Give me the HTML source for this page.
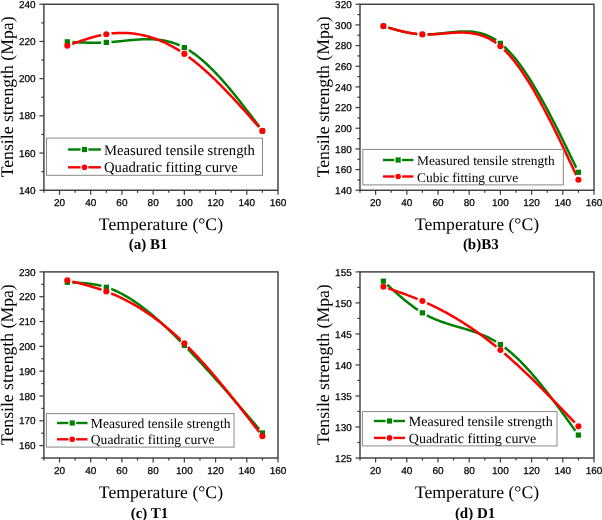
<!DOCTYPE html>
<html><head><meta charset="utf-8"><style>
html,body{margin:0;padding:0;background:#fff;}
body{width:602px;height:520px;overflow:hidden;}
svg{display:block;filter:blur(0.3px);text-rendering:geometricPrecision;}
.tk{font-family:"Liberation Sans",sans-serif;font-size:10px;fill:#000;stroke:#000;stroke-width:0.25px;}
.lg{font-family:"Liberation Serif",serif;fill:#000;}
.ti{font-family:"Liberation Serif",serif;font-size:17.7px;fill:#000;}
.cap{font-family:"Liberation Serif",serif;font-size:15px;font-weight:bold;fill:#000;}
</style></head><body>
<svg width="602" height="520" viewBox="0 0 602 520">
<defs><mask id="m0g" maskUnits="userSpaceOnUse" x="0" y="0" width="602" height="520"><rect x="0" y="0" width="602" height="520" fill="white"/><circle cx="67.31" cy="41.82" r="5.3" fill="black"/><circle cx="106.33" cy="42.38" r="5.3" fill="black"/><circle cx="184.36" cy="47.59" r="5.3" fill="black"/><circle cx="262.39" cy="130.92" r="5.3" fill="black"/></mask><mask id="m0r" maskUnits="userSpaceOnUse" x="0" y="0" width="602" height="520"><rect x="0" y="0" width="602" height="520" fill="white"/><circle cx="67.31" cy="45.73" r="5.3" fill="black"/><circle cx="106.33" cy="34.20" r="5.3" fill="black"/><circle cx="184.36" cy="53.91" r="5.3" fill="black"/><circle cx="262.39" cy="130.92" r="5.3" fill="black"/></mask><mask id="m1g" maskUnits="userSpaceOnUse" x="0" y="0" width="602" height="520"><rect x="0" y="0" width="602" height="520" fill="white"/><circle cx="383.40" cy="26.16" r="5.3" fill="black"/><circle cx="422.40" cy="34.42" r="5.3" fill="black"/><circle cx="500.40" cy="43.31" r="5.3" fill="black"/><circle cx="578.40" cy="172.27" r="5.3" fill="black"/></mask><mask id="m1r" maskUnits="userSpaceOnUse" x="0" y="0" width="602" height="520"><rect x="0" y="0" width="602" height="520" fill="white"/><circle cx="383.40" cy="26.16" r="5.3" fill="black"/><circle cx="422.40" cy="34.42" r="5.3" fill="black"/><circle cx="500.40" cy="46.31" r="5.3" fill="black"/><circle cx="578.40" cy="179.71" r="5.3" fill="black"/></mask><mask id="m2g" maskUnits="userSpaceOnUse" x="0" y="0" width="602" height="520"><rect x="0" y="0" width="602" height="520" fill="white"/><circle cx="67.31" cy="282.32" r="5.3" fill="black"/><circle cx="106.33" cy="287.28" r="5.3" fill="black"/><circle cx="184.36" cy="345.35" r="5.3" fill="black"/><circle cx="262.39" cy="432.94" r="5.3" fill="black"/></mask><mask id="m2r" maskUnits="userSpaceOnUse" x="0" y="0" width="602" height="520"><rect x="0" y="0" width="602" height="520" fill="white"/><circle cx="67.31" cy="280.34" r="5.3" fill="black"/><circle cx="106.33" cy="291.50" r="5.3" fill="black"/><circle cx="184.36" cy="343.36" r="5.3" fill="black"/><circle cx="262.39" cy="436.16" r="5.3" fill="black"/></mask><mask id="m3g" maskUnits="userSpaceOnUse" x="0" y="0" width="602" height="520"><rect x="0" y="0" width="602" height="520" fill="white"/><circle cx="383.40" cy="281.20" r="5.3" fill="black"/><circle cx="422.40" cy="312.84" r="5.3" fill="black"/><circle cx="500.40" cy="344.48" r="5.3" fill="black"/><circle cx="578.40" cy="435.05" r="5.3" fill="black"/></mask><mask id="m3r" maskUnits="userSpaceOnUse" x="0" y="0" width="602" height="520"><rect x="0" y="0" width="602" height="520" fill="white"/><circle cx="383.40" cy="286.79" r="5.3" fill="black"/><circle cx="422.40" cy="301.06" r="5.3" fill="black"/><circle cx="500.40" cy="350.06" r="5.3" fill="black"/><circle cx="578.40" cy="426.36" r="5.3" fill="black"/></mask></defs>
<rect x="43.9" y="4.25" width="234.10" height="186.00" fill="none" stroke="#3a3a3a" stroke-width="1.4"/>
<line x1="43.90" y1="190.25" x2="43.90" y2="192.85" stroke="#3a3a3a" stroke-width="1.2"/>
<line x1="59.51" y1="190.25" x2="59.51" y2="194.75" stroke="#3a3a3a" stroke-width="1.2"/>
<text x="59.51" y="206.05" class="tk" text-anchor="middle">20</text>
<line x1="75.11" y1="190.25" x2="75.11" y2="192.85" stroke="#3a3a3a" stroke-width="1.2"/>
<line x1="90.72" y1="190.25" x2="90.72" y2="194.75" stroke="#3a3a3a" stroke-width="1.2"/>
<text x="90.72" y="206.05" class="tk" text-anchor="middle">40</text>
<line x1="106.33" y1="190.25" x2="106.33" y2="192.85" stroke="#3a3a3a" stroke-width="1.2"/>
<line x1="121.93" y1="190.25" x2="121.93" y2="194.75" stroke="#3a3a3a" stroke-width="1.2"/>
<text x="121.93" y="206.05" class="tk" text-anchor="middle">60</text>
<line x1="137.54" y1="190.25" x2="137.54" y2="192.85" stroke="#3a3a3a" stroke-width="1.2"/>
<line x1="153.15" y1="190.25" x2="153.15" y2="194.75" stroke="#3a3a3a" stroke-width="1.2"/>
<text x="153.15" y="206.05" class="tk" text-anchor="middle">80</text>
<line x1="168.75" y1="190.25" x2="168.75" y2="192.85" stroke="#3a3a3a" stroke-width="1.2"/>
<line x1="184.36" y1="190.25" x2="184.36" y2="194.75" stroke="#3a3a3a" stroke-width="1.2"/>
<text x="184.36" y="206.05" class="tk" text-anchor="middle">100</text>
<line x1="199.97" y1="190.25" x2="199.97" y2="192.85" stroke="#3a3a3a" stroke-width="1.2"/>
<line x1="215.57" y1="190.25" x2="215.57" y2="194.75" stroke="#3a3a3a" stroke-width="1.2"/>
<text x="215.57" y="206.05" class="tk" text-anchor="middle">120</text>
<line x1="231.18" y1="190.25" x2="231.18" y2="192.85" stroke="#3a3a3a" stroke-width="1.2"/>
<line x1="246.79" y1="190.25" x2="246.79" y2="194.75" stroke="#3a3a3a" stroke-width="1.2"/>
<text x="246.79" y="206.05" class="tk" text-anchor="middle">140</text>
<line x1="262.39" y1="190.25" x2="262.39" y2="192.85" stroke="#3a3a3a" stroke-width="1.2"/>
<line x1="278.00" y1="190.25" x2="278.00" y2="194.75" stroke="#3a3a3a" stroke-width="1.2"/>
<text x="278.00" y="206.05" class="tk" text-anchor="middle">160</text>
<line x1="39.40" y1="190.25" x2="43.9" y2="190.25" stroke="#3a3a3a" stroke-width="1.2"/>
<text x="35.70" y="193.85" class="tk" text-anchor="end">140</text>
<line x1="41.30" y1="171.65" x2="43.9" y2="171.65" stroke="#3a3a3a" stroke-width="1.2"/>
<line x1="39.40" y1="153.05" x2="43.9" y2="153.05" stroke="#3a3a3a" stroke-width="1.2"/>
<text x="35.70" y="156.65" class="tk" text-anchor="end">160</text>
<line x1="41.30" y1="134.45" x2="43.9" y2="134.45" stroke="#3a3a3a" stroke-width="1.2"/>
<line x1="39.40" y1="115.85" x2="43.9" y2="115.85" stroke="#3a3a3a" stroke-width="1.2"/>
<text x="35.70" y="119.45" class="tk" text-anchor="end">180</text>
<line x1="41.30" y1="97.25" x2="43.9" y2="97.25" stroke="#3a3a3a" stroke-width="1.2"/>
<line x1="39.40" y1="78.65" x2="43.9" y2="78.65" stroke="#3a3a3a" stroke-width="1.2"/>
<text x="35.70" y="82.25" class="tk" text-anchor="end">200</text>
<line x1="41.30" y1="60.05" x2="43.9" y2="60.05" stroke="#3a3a3a" stroke-width="1.2"/>
<line x1="39.40" y1="41.45" x2="43.9" y2="41.45" stroke="#3a3a3a" stroke-width="1.2"/>
<text x="35.70" y="45.05" class="tk" text-anchor="end">220</text>
<line x1="41.30" y1="22.85" x2="43.9" y2="22.85" stroke="#3a3a3a" stroke-width="1.2"/>
<line x1="39.40" y1="4.25" x2="43.9" y2="4.25" stroke="#3a3a3a" stroke-width="1.2"/>
<text x="35.70" y="7.85" class="tk" text-anchor="end">240</text>
<path d="M67.31,41.82 L67.96,41.85 L68.61,41.89 L69.26,41.92 L69.91,41.95 L70.56,41.98 L71.21,42.02 L71.86,42.05 L72.51,42.08 L73.16,42.11 L73.81,42.14 L74.46,42.17 L75.11,42.20 L75.76,42.23 L76.41,42.26 L77.06,42.29 L77.71,42.32 L78.36,42.35 L79.02,42.37 L79.67,42.40 L80.32,42.42 L80.97,42.45 L81.62,42.47 L82.27,42.49 L82.92,42.52 L83.57,42.54 L84.22,42.56 L84.87,42.58 L85.52,42.59 L86.17,42.61 L86.82,42.63 L87.47,42.64 L88.12,42.66 L88.77,42.67 L89.42,42.68 L90.07,42.69 L90.72,42.70 L91.37,42.70 L92.02,42.71 L92.67,42.71 L93.32,42.71 L93.97,42.71 L94.62,42.71 L95.27,42.71 L95.92,42.71 L96.57,42.70 L97.22,42.69 L97.87,42.68 L98.52,42.67 L99.17,42.66 L99.82,42.64 L100.47,42.63 L101.12,42.61 L101.77,42.59 L102.42,42.56 L103.08,42.54 L103.73,42.51 L104.38,42.48 L105.03,42.45 L105.68,42.42 L106.33,42.38 L107.63,42.30 L108.93,42.21 L110.23,42.12 L111.53,42.01 L112.83,41.90 L114.13,41.79 L115.43,41.67 L116.73,41.54 L118.03,41.42 L119.33,41.29 L120.63,41.15 L121.93,41.02 L123.23,40.88 L124.53,40.75 L125.84,40.62 L127.14,40.49 L128.44,40.36 L129.74,40.23 L131.04,40.11 L132.34,39.99 L133.64,39.88 L134.94,39.78 L136.24,39.68 L137.54,39.59 L138.84,39.50 L140.14,39.43 L141.44,39.36 L142.74,39.31 L144.04,39.27 L145.34,39.24 L146.64,39.22 L147.94,39.22 L149.25,39.23 L150.55,39.25 L151.85,39.30 L153.15,39.35 L154.45,39.43 L155.75,39.52 L157.05,39.63 L158.35,39.76 L159.65,39.91 L160.95,40.08 L162.25,40.28 L163.55,40.49 L164.85,40.73 L166.15,41.00 L167.45,41.28 L168.75,41.60 L170.05,41.93 L171.35,42.30 L172.66,42.69 L173.96,43.11 L175.26,43.56 L176.56,44.04 L177.86,44.55 L179.16,45.10 L180.46,45.67 L181.76,46.27 L183.06,46.91 L184.36,47.59 L185.68,48.31 L187.01,49.06 L188.33,49.86 L189.65,50.68 L190.97,51.54 L192.30,52.43 L193.62,53.36 L194.94,54.31 L196.26,55.30 L197.59,56.32 L198.91,57.37 L200.23,58.44 L201.55,59.55 L202.88,60.68 L204.20,61.84 L205.52,63.03 L206.84,64.25 L208.17,65.49 L209.49,66.75 L210.81,68.04 L212.13,69.36 L213.46,70.69 L214.78,72.05 L216.10,73.44 L217.42,74.84 L218.75,76.26 L220.07,77.71 L221.39,79.17 L222.72,80.65 L224.04,82.15 L225.36,83.67 L226.68,85.21 L228.01,86.76 L229.33,88.33 L230.65,89.91 L231.97,91.51 L233.30,93.12 L234.62,94.75 L235.94,96.39 L237.26,98.04 L238.59,99.70 L239.91,101.38 L241.23,103.06 L242.55,104.75 L243.88,106.46 L245.20,108.17 L246.52,109.89 L247.84,111.61 L249.17,113.35 L250.49,115.09 L251.81,116.83 L253.14,118.58 L254.46,120.34 L255.78,122.09 L257.10,123.85 L258.43,125.62 L259.75,127.38 L261.07,129.15 L262.39,130.92" fill="none" stroke="#008000" stroke-width="2.5" stroke-linejoin="round" mask="url(#m0g)"/>
<path d="M67.31,45.73 L67.96,45.49 L68.61,45.26 L69.26,45.02 L69.91,44.79 L70.56,44.55 L71.21,44.32 L71.86,44.08 L72.51,43.85 L73.16,43.62 L73.81,43.39 L74.46,43.16 L75.11,42.92 L75.76,42.70 L76.41,42.47 L77.06,42.24 L77.71,42.01 L78.36,41.79 L79.02,41.56 L79.67,41.34 L80.32,41.12 L80.97,40.90 L81.62,40.68 L82.27,40.46 L82.92,40.25 L83.57,40.03 L84.22,39.82 L84.87,39.61 L85.52,39.40 L86.17,39.20 L86.82,38.99 L87.47,38.79 L88.12,38.59 L88.77,38.39 L89.42,38.20 L90.07,38.01 L90.72,37.82 L91.37,37.63 L92.02,37.44 L92.67,37.26 L93.32,37.08 L93.97,36.91 L94.62,36.73 L95.27,36.56 L95.92,36.39 L96.57,36.23 L97.22,36.07 L97.87,35.91 L98.52,35.76 L99.17,35.61 L99.82,35.46 L100.47,35.32 L101.12,35.18 L101.77,35.04 L102.42,34.91 L103.08,34.78 L103.73,34.65 L104.38,34.53 L105.03,34.42 L105.68,34.30 L106.33,34.20 L107.63,33.99 L108.93,33.81 L110.23,33.64 L111.53,33.49 L112.83,33.35 L114.13,33.24 L115.43,33.14 L116.73,33.06 L118.03,32.99 L119.33,32.95 L120.63,32.92 L121.93,32.91 L123.23,32.91 L124.53,32.94 L125.84,32.98 L127.14,33.04 L128.44,33.12 L129.74,33.21 L131.04,33.33 L132.34,33.46 L133.64,33.61 L134.94,33.78 L136.24,33.96 L137.54,34.17 L138.84,34.39 L140.14,34.63 L141.44,34.89 L142.74,35.16 L144.04,35.46 L145.34,35.77 L146.64,36.10 L147.94,36.46 L149.25,36.82 L150.55,37.21 L151.85,37.62 L153.15,38.04 L154.45,38.49 L155.75,38.95 L157.05,39.43 L158.35,39.93 L159.65,40.45 L160.95,40.98 L162.25,41.54 L163.55,42.11 L164.85,42.71 L166.15,43.32 L167.45,43.95 L168.75,44.60 L170.05,45.27 L171.35,45.96 L172.66,46.67 L173.96,47.40 L175.26,48.14 L176.56,48.91 L177.86,49.69 L179.16,50.50 L180.46,51.32 L181.76,52.17 L183.06,53.03 L184.36,53.91 L185.68,54.83 L187.01,55.77 L188.33,56.72 L189.65,57.70 L190.97,58.69 L192.30,59.71 L193.62,60.74 L194.94,61.79 L196.26,62.86 L197.59,63.94 L198.91,65.04 L200.23,66.16 L201.55,67.29 L202.88,68.44 L204.20,69.61 L205.52,70.78 L206.84,71.98 L208.17,73.19 L209.49,74.41 L210.81,75.65 L212.13,76.90 L213.46,78.16 L214.78,79.44 L216.10,80.72 L217.42,82.02 L218.75,83.34 L220.07,84.66 L221.39,85.99 L222.72,87.34 L224.04,88.69 L225.36,90.06 L226.68,91.43 L228.01,92.81 L229.33,94.21 L230.65,95.61 L231.97,97.02 L233.30,98.44 L234.62,99.86 L235.94,101.29 L237.26,102.73 L238.59,104.18 L239.91,105.63 L241.23,107.09 L242.55,108.55 L243.88,110.02 L245.20,111.49 L246.52,112.97 L247.84,114.45 L249.17,115.93 L250.49,117.42 L251.81,118.91 L253.14,120.41 L254.46,121.90 L255.78,123.40 L257.10,124.90 L258.43,126.41 L259.75,127.91 L261.07,129.41 L262.39,130.92" fill="none" stroke="#ff0000" stroke-width="2.5" stroke-linejoin="round" mask="url(#m0r)"/>
<rect x="64.66" y="39.22" width="5.3" height="5.2" fill="#008000"/>
<rect x="103.68" y="39.78" width="5.3" height="5.2" fill="#008000"/>
<rect x="181.71" y="44.99" width="5.3" height="5.2" fill="#008000"/>
<rect x="259.74" y="128.32" width="5.3" height="5.2" fill="#008000"/>
<circle cx="67.31" cy="45.73" r="3.05" fill="#ff0000"/>
<circle cx="106.33" cy="34.20" r="3.05" fill="#ff0000"/>
<circle cx="184.36" cy="53.91" r="3.05" fill="#ff0000"/>
<circle cx="262.39" cy="130.92" r="3.05" fill="#ff0000"/>
<rect x="46.5" y="138.1" width="216.00" height="37.20" fill="#fff" stroke="#888" stroke-width="1"/>
<line x1="68.0" y1="149.5" x2="80.55" y2="149.5" stroke="#008000" stroke-width="2.4"/>
<line x1="88.35" y1="149.5" x2="100.9" y2="149.5" stroke="#008000" stroke-width="2.4"/>
<rect x="81.85" y="146.90" width="5.2" height="5.2" fill="#008000"/>
<text x="104.0" y="154.50" class="lg" style="font-size:14.7px">Measured tensile strength</text>
<line x1="68.0" y1="167.3" x2="80.55" y2="167.3" stroke="#ff0000" stroke-width="2.4"/>
<line x1="88.35" y1="167.3" x2="100.9" y2="167.3" stroke="#ff0000" stroke-width="2.4"/>
<circle cx="84.45" cy="167.30" r="2.8" fill="#ff0000"/>
<text x="104.0" y="172.30" class="lg" style="font-size:14.7px">Quadratic fitting curve</text>
<text x="160.95" y="229.8" class="ti" text-anchor="middle">Temperature (°C)</text>
<text x="148.1" y="249.2" class="cap" text-anchor="middle">(a) B1</text>
<text transform="translate(12.7,96.9) rotate(-90)" x="0" y="0" class="ti" text-anchor="middle">Tensile strength (Mpa)</text>
<rect x="360.0" y="4.25" width="234.00" height="186.00" fill="none" stroke="#3a3a3a" stroke-width="1.4"/>
<line x1="360.00" y1="190.25" x2="360.00" y2="192.85" stroke="#3a3a3a" stroke-width="1.2"/>
<line x1="375.60" y1="190.25" x2="375.60" y2="194.75" stroke="#3a3a3a" stroke-width="1.2"/>
<text x="375.60" y="206.05" class="tk" text-anchor="middle">20</text>
<line x1="391.20" y1="190.25" x2="391.20" y2="192.85" stroke="#3a3a3a" stroke-width="1.2"/>
<line x1="406.80" y1="190.25" x2="406.80" y2="194.75" stroke="#3a3a3a" stroke-width="1.2"/>
<text x="406.80" y="206.05" class="tk" text-anchor="middle">40</text>
<line x1="422.40" y1="190.25" x2="422.40" y2="192.85" stroke="#3a3a3a" stroke-width="1.2"/>
<line x1="438.00" y1="190.25" x2="438.00" y2="194.75" stroke="#3a3a3a" stroke-width="1.2"/>
<text x="438.00" y="206.05" class="tk" text-anchor="middle">60</text>
<line x1="453.60" y1="190.25" x2="453.60" y2="192.85" stroke="#3a3a3a" stroke-width="1.2"/>
<line x1="469.20" y1="190.25" x2="469.20" y2="194.75" stroke="#3a3a3a" stroke-width="1.2"/>
<text x="469.20" y="206.05" class="tk" text-anchor="middle">80</text>
<line x1="484.80" y1="190.25" x2="484.80" y2="192.85" stroke="#3a3a3a" stroke-width="1.2"/>
<line x1="500.40" y1="190.25" x2="500.40" y2="194.75" stroke="#3a3a3a" stroke-width="1.2"/>
<text x="500.40" y="206.05" class="tk" text-anchor="middle">100</text>
<line x1="516.00" y1="190.25" x2="516.00" y2="192.85" stroke="#3a3a3a" stroke-width="1.2"/>
<line x1="531.60" y1="190.25" x2="531.60" y2="194.75" stroke="#3a3a3a" stroke-width="1.2"/>
<text x="531.60" y="206.05" class="tk" text-anchor="middle">120</text>
<line x1="547.20" y1="190.25" x2="547.20" y2="192.85" stroke="#3a3a3a" stroke-width="1.2"/>
<line x1="562.80" y1="190.25" x2="562.80" y2="194.75" stroke="#3a3a3a" stroke-width="1.2"/>
<text x="562.80" y="206.05" class="tk" text-anchor="middle">140</text>
<line x1="578.40" y1="190.25" x2="578.40" y2="192.85" stroke="#3a3a3a" stroke-width="1.2"/>
<line x1="594.00" y1="190.25" x2="594.00" y2="194.75" stroke="#3a3a3a" stroke-width="1.2"/>
<text x="594.00" y="206.05" class="tk" text-anchor="middle">160</text>
<line x1="355.50" y1="190.25" x2="360.0" y2="190.25" stroke="#3a3a3a" stroke-width="1.2"/>
<text x="351.80" y="193.85" class="tk" text-anchor="end">140</text>
<line x1="357.40" y1="179.92" x2="360.0" y2="179.92" stroke="#3a3a3a" stroke-width="1.2"/>
<line x1="355.50" y1="169.58" x2="360.0" y2="169.58" stroke="#3a3a3a" stroke-width="1.2"/>
<text x="351.80" y="173.18" class="tk" text-anchor="end">160</text>
<line x1="357.40" y1="159.25" x2="360.0" y2="159.25" stroke="#3a3a3a" stroke-width="1.2"/>
<line x1="355.50" y1="148.92" x2="360.0" y2="148.92" stroke="#3a3a3a" stroke-width="1.2"/>
<text x="351.80" y="152.52" class="tk" text-anchor="end">180</text>
<line x1="357.40" y1="138.58" x2="360.0" y2="138.58" stroke="#3a3a3a" stroke-width="1.2"/>
<line x1="355.50" y1="128.25" x2="360.0" y2="128.25" stroke="#3a3a3a" stroke-width="1.2"/>
<text x="351.80" y="131.85" class="tk" text-anchor="end">200</text>
<line x1="357.40" y1="117.92" x2="360.0" y2="117.92" stroke="#3a3a3a" stroke-width="1.2"/>
<line x1="355.50" y1="107.58" x2="360.0" y2="107.58" stroke="#3a3a3a" stroke-width="1.2"/>
<text x="351.80" y="111.18" class="tk" text-anchor="end">220</text>
<line x1="357.40" y1="97.25" x2="360.0" y2="97.25" stroke="#3a3a3a" stroke-width="1.2"/>
<line x1="355.50" y1="86.92" x2="360.0" y2="86.92" stroke="#3a3a3a" stroke-width="1.2"/>
<text x="351.80" y="90.52" class="tk" text-anchor="end">240</text>
<line x1="357.40" y1="76.58" x2="360.0" y2="76.58" stroke="#3a3a3a" stroke-width="1.2"/>
<line x1="355.50" y1="66.25" x2="360.0" y2="66.25" stroke="#3a3a3a" stroke-width="1.2"/>
<text x="351.80" y="69.85" class="tk" text-anchor="end">260</text>
<line x1="357.40" y1="55.92" x2="360.0" y2="55.92" stroke="#3a3a3a" stroke-width="1.2"/>
<line x1="355.50" y1="45.58" x2="360.0" y2="45.58" stroke="#3a3a3a" stroke-width="1.2"/>
<text x="351.80" y="49.18" class="tk" text-anchor="end">280</text>
<line x1="357.40" y1="35.25" x2="360.0" y2="35.25" stroke="#3a3a3a" stroke-width="1.2"/>
<line x1="355.50" y1="24.92" x2="360.0" y2="24.92" stroke="#3a3a3a" stroke-width="1.2"/>
<text x="351.80" y="28.52" class="tk" text-anchor="end">300</text>
<line x1="357.40" y1="14.58" x2="360.0" y2="14.58" stroke="#3a3a3a" stroke-width="1.2"/>
<line x1="355.50" y1="4.25" x2="360.0" y2="4.25" stroke="#3a3a3a" stroke-width="1.2"/>
<text x="351.80" y="7.85" class="tk" text-anchor="end">320</text>
<path d="M383.40,26.16 L384.05,26.35 L384.70,26.55 L385.35,26.74 L386.00,26.94 L386.65,27.13 L387.30,27.32 L387.95,27.52 L388.60,27.71 L389.25,27.90 L389.90,28.09 L390.55,28.28 L391.20,28.47 L391.85,28.65 L392.50,28.84 L393.15,29.03 L393.80,29.21 L394.45,29.39 L395.10,29.57 L395.75,29.75 L396.40,29.93 L397.05,30.10 L397.70,30.27 L398.35,30.45 L399.00,30.61 L399.65,30.78 L400.30,30.94 L400.95,31.11 L401.60,31.26 L402.25,31.42 L402.90,31.57 L403.55,31.72 L404.20,31.87 L404.85,32.02 L405.50,32.16 L406.15,32.30 L406.80,32.43 L407.45,32.56 L408.10,32.69 L408.75,32.82 L409.40,32.94 L410.05,33.05 L410.70,33.17 L411.35,33.27 L412.00,33.38 L412.65,33.48 L413.30,33.58 L413.95,33.67 L414.60,33.76 L415.25,33.84 L415.90,33.92 L416.55,33.99 L417.20,34.06 L417.85,34.12 L418.50,34.18 L419.15,34.24 L419.80,34.28 L420.45,34.33 L421.10,34.36 L421.75,34.40 L422.40,34.42 L423.70,34.46 L425.00,34.47 L426.30,34.47 L427.60,34.44 L428.90,34.40 L430.20,34.34 L431.50,34.27 L432.80,34.18 L434.10,34.08 L435.40,33.97 L436.70,33.85 L438.00,33.72 L439.30,33.59 L440.60,33.45 L441.90,33.30 L443.20,33.15 L444.50,33.00 L445.80,32.85 L447.10,32.70 L448.40,32.55 L449.70,32.40 L451.00,32.26 L452.30,32.13 L453.60,32.00 L454.90,31.88 L456.20,31.77 L457.50,31.67 L458.80,31.59 L460.10,31.52 L461.40,31.46 L462.70,31.42 L464.00,31.40 L465.30,31.40 L466.60,31.41 L467.90,31.45 L469.20,31.52 L470.50,31.60 L471.80,31.71 L473.10,31.85 L474.40,32.02 L475.70,32.22 L477.00,32.44 L478.30,32.70 L479.60,33.00 L480.90,33.33 L482.20,33.69 L483.50,34.09 L484.80,34.53 L486.10,35.01 L487.40,35.53 L488.70,36.10 L490.00,36.71 L491.30,37.36 L492.60,38.06 L493.90,38.81 L495.20,39.60 L496.50,40.45 L497.80,41.35 L499.10,42.30 L500.40,43.31 L501.72,44.39 L503.04,45.53 L504.37,46.72 L505.69,47.97 L507.01,49.27 L508.33,50.63 L509.65,52.03 L510.98,53.49 L512.30,54.99 L513.62,56.55 L514.94,58.15 L516.26,59.80 L517.59,61.50 L518.91,63.24 L520.23,65.03 L521.55,66.86 L522.87,68.73 L524.20,70.64 L525.52,72.59 L526.84,74.58 L528.16,76.61 L529.48,78.67 L530.81,80.77 L532.13,82.91 L533.45,85.08 L534.77,87.29 L536.09,89.52 L537.42,91.79 L538.74,94.09 L540.06,96.42 L541.38,98.77 L542.71,101.16 L544.03,103.56 L545.35,106.00 L546.67,108.46 L547.99,110.94 L549.32,113.45 L550.64,115.97 L551.96,118.52 L553.28,121.09 L554.60,123.67 L555.93,126.28 L557.25,128.90 L558.57,131.53 L559.89,134.18 L561.21,136.84 L562.54,139.52 L563.86,142.21 L565.18,144.91 L566.50,147.62 L567.82,150.33 L569.15,153.06 L570.47,155.79 L571.79,158.53 L573.11,161.27 L574.43,164.02 L575.76,166.77 L577.08,169.52 L578.40,172.27" fill="none" stroke="#008000" stroke-width="2.5" stroke-linejoin="round" mask="url(#m1g)"/>
<path d="M383.40,26.16 L384.05,26.35 L384.70,26.54 L385.35,26.73 L386.00,26.92 L386.65,27.11 L387.30,27.30 L387.95,27.49 L388.60,27.68 L389.25,27.86 L389.90,28.05 L390.55,28.24 L391.20,28.42 L391.85,28.61 L392.50,28.79 L393.15,28.97 L393.80,29.15 L394.45,29.33 L395.10,29.51 L395.75,29.68 L396.40,29.86 L397.05,30.03 L397.70,30.20 L398.35,30.37 L399.00,30.53 L399.65,30.70 L400.30,30.86 L400.95,31.02 L401.60,31.18 L402.25,31.33 L402.90,31.48 L403.55,31.63 L404.20,31.78 L404.85,31.93 L405.50,32.07 L406.15,32.20 L406.80,32.34 L407.45,32.47 L408.10,32.60 L408.75,32.73 L409.40,32.85 L410.05,32.97 L410.70,33.08 L411.35,33.19 L412.00,33.30 L412.65,33.40 L413.30,33.50 L413.95,33.60 L414.60,33.69 L415.25,33.77 L415.90,33.86 L416.55,33.93 L417.20,34.01 L417.85,34.08 L418.50,34.14 L419.15,34.20 L419.80,34.26 L420.45,34.30 L421.10,34.35 L421.75,34.39 L422.40,34.42 L423.70,34.48 L425.00,34.51 L426.30,34.52 L427.60,34.52 L428.90,34.50 L430.20,34.47 L431.50,34.42 L432.80,34.36 L434.10,34.29 L435.40,34.21 L436.70,34.12 L438.00,34.02 L439.30,33.92 L440.60,33.82 L441.90,33.71 L443.20,33.60 L444.50,33.48 L445.80,33.37 L447.10,33.26 L448.40,33.16 L449.70,33.06 L451.00,32.96 L452.30,32.87 L453.60,32.79 L454.90,32.72 L456.20,32.66 L457.50,32.61 L458.80,32.58 L460.10,32.56 L461.40,32.56 L462.70,32.57 L464.00,32.60 L465.30,32.65 L466.60,32.73 L467.90,32.82 L469.20,32.94 L470.50,33.09 L471.80,33.26 L473.10,33.46 L474.40,33.69 L475.70,33.95 L477.00,34.24 L478.30,34.56 L479.60,34.92 L480.90,35.31 L482.20,35.74 L483.50,36.20 L484.80,36.71 L486.10,37.26 L487.40,37.84 L488.70,38.47 L490.00,39.15 L491.30,39.87 L492.60,40.64 L493.90,41.46 L495.20,42.32 L496.50,43.24 L497.80,44.21 L499.10,45.23 L500.40,46.31 L501.72,47.46 L503.04,48.67 L504.37,49.93 L505.69,51.25 L507.01,52.63 L508.33,54.05 L509.65,55.53 L510.98,57.06 L512.30,58.64 L513.62,60.27 L514.94,61.95 L516.26,63.67 L517.59,65.44 L518.91,67.25 L520.23,69.11 L521.55,71.02 L522.87,72.96 L524.20,74.95 L525.52,76.97 L526.84,79.04 L528.16,81.14 L529.48,83.28 L530.81,85.46 L532.13,87.67 L533.45,89.91 L534.77,92.19 L536.09,94.51 L537.42,96.85 L538.74,99.22 L540.06,101.63 L541.38,104.06 L542.71,106.52 L544.03,109.00 L545.35,111.51 L546.67,114.05 L547.99,116.61 L549.32,119.19 L550.64,121.79 L551.96,124.42 L553.28,127.06 L554.60,129.72 L555.93,132.40 L557.25,135.10 L558.57,137.81 L559.89,140.54 L561.21,143.28 L562.54,146.03 L563.86,148.80 L565.18,151.57 L566.50,154.36 L567.82,157.15 L569.15,159.96 L570.47,162.77 L571.79,165.58 L573.11,168.40 L574.43,171.22 L575.76,174.05 L577.08,176.88 L578.40,179.71" fill="none" stroke="#ff0000" stroke-width="2.5" stroke-linejoin="round" mask="url(#m1r)"/>
<rect x="380.75" y="23.56" width="5.3" height="5.2" fill="#008000"/>
<rect x="419.75" y="31.82" width="5.3" height="5.2" fill="#008000"/>
<rect x="497.75" y="40.71" width="5.3" height="5.2" fill="#008000"/>
<rect x="575.75" y="169.67" width="5.3" height="5.2" fill="#008000"/>
<circle cx="383.40" cy="26.16" r="3.05" fill="#ff0000"/>
<circle cx="422.40" cy="34.42" r="3.05" fill="#ff0000"/>
<circle cx="500.40" cy="46.31" r="3.05" fill="#ff0000"/>
<circle cx="578.40" cy="179.71" r="3.05" fill="#ff0000"/>
<rect x="362.8" y="149.4" width="200.50" height="35.50" fill="#fff" stroke="#888" stroke-width="1"/>
<line x1="382.9" y1="160.0" x2="394.25" y2="160.0" stroke="#008000" stroke-width="2.4"/>
<line x1="402.05" y1="160.0" x2="413.4" y2="160.0" stroke="#008000" stroke-width="2.4"/>
<rect x="395.55" y="157.40" width="5.2" height="5.2" fill="#008000"/>
<text x="417.0" y="165.00" class="lg" style="font-size:13.4px">Measured tensile strength</text>
<line x1="382.9" y1="176.5" x2="394.25" y2="176.5" stroke="#ff0000" stroke-width="2.4"/>
<line x1="402.05" y1="176.5" x2="413.4" y2="176.5" stroke="#ff0000" stroke-width="2.4"/>
<circle cx="398.15" cy="176.50" r="2.8" fill="#ff0000"/>
<text x="417.0" y="181.50" class="lg" style="font-size:13.4px">Cubic fitting curve</text>
<text x="477.00" y="229.8" class="ti" text-anchor="middle">Temperature (°C)</text>
<text x="480.8" y="249.2" class="cap" text-anchor="middle">(b)B3</text>
<text transform="translate(329.4,96.9) rotate(-90)" x="0" y="0" class="ti" text-anchor="middle">Tensile strength (Mpa)</text>
<rect x="43.9" y="271.9" width="234.10" height="186.10" fill="none" stroke="#3a3a3a" stroke-width="1.4"/>
<line x1="43.90" y1="458.0" x2="43.90" y2="460.60" stroke="#3a3a3a" stroke-width="1.2"/>
<line x1="59.51" y1="458.0" x2="59.51" y2="462.50" stroke="#3a3a3a" stroke-width="1.2"/>
<text x="59.51" y="473.80" class="tk" text-anchor="middle">20</text>
<line x1="75.11" y1="458.0" x2="75.11" y2="460.60" stroke="#3a3a3a" stroke-width="1.2"/>
<line x1="90.72" y1="458.0" x2="90.72" y2="462.50" stroke="#3a3a3a" stroke-width="1.2"/>
<text x="90.72" y="473.80" class="tk" text-anchor="middle">40</text>
<line x1="106.33" y1="458.0" x2="106.33" y2="460.60" stroke="#3a3a3a" stroke-width="1.2"/>
<line x1="121.93" y1="458.0" x2="121.93" y2="462.50" stroke="#3a3a3a" stroke-width="1.2"/>
<text x="121.93" y="473.80" class="tk" text-anchor="middle">60</text>
<line x1="137.54" y1="458.0" x2="137.54" y2="460.60" stroke="#3a3a3a" stroke-width="1.2"/>
<line x1="153.15" y1="458.0" x2="153.15" y2="462.50" stroke="#3a3a3a" stroke-width="1.2"/>
<text x="153.15" y="473.80" class="tk" text-anchor="middle">80</text>
<line x1="168.75" y1="458.0" x2="168.75" y2="460.60" stroke="#3a3a3a" stroke-width="1.2"/>
<line x1="184.36" y1="458.0" x2="184.36" y2="462.50" stroke="#3a3a3a" stroke-width="1.2"/>
<text x="184.36" y="473.80" class="tk" text-anchor="middle">100</text>
<line x1="199.97" y1="458.0" x2="199.97" y2="460.60" stroke="#3a3a3a" stroke-width="1.2"/>
<line x1="215.57" y1="458.0" x2="215.57" y2="462.50" stroke="#3a3a3a" stroke-width="1.2"/>
<text x="215.57" y="473.80" class="tk" text-anchor="middle">120</text>
<line x1="231.18" y1="458.0" x2="231.18" y2="460.60" stroke="#3a3a3a" stroke-width="1.2"/>
<line x1="246.79" y1="458.0" x2="246.79" y2="462.50" stroke="#3a3a3a" stroke-width="1.2"/>
<text x="246.79" y="473.80" class="tk" text-anchor="middle">140</text>
<line x1="262.39" y1="458.0" x2="262.39" y2="460.60" stroke="#3a3a3a" stroke-width="1.2"/>
<line x1="278.00" y1="458.0" x2="278.00" y2="462.50" stroke="#3a3a3a" stroke-width="1.2"/>
<text x="278.00" y="473.80" class="tk" text-anchor="middle">160</text>
<line x1="41.30" y1="458.00" x2="43.9" y2="458.00" stroke="#3a3a3a" stroke-width="1.2"/>
<line x1="39.40" y1="445.59" x2="43.9" y2="445.59" stroke="#3a3a3a" stroke-width="1.2"/>
<text x="35.70" y="449.19" class="tk" text-anchor="end">160</text>
<line x1="41.30" y1="433.19" x2="43.9" y2="433.19" stroke="#3a3a3a" stroke-width="1.2"/>
<line x1="39.40" y1="420.78" x2="43.9" y2="420.78" stroke="#3a3a3a" stroke-width="1.2"/>
<text x="35.70" y="424.38" class="tk" text-anchor="end">170</text>
<line x1="41.30" y1="408.37" x2="43.9" y2="408.37" stroke="#3a3a3a" stroke-width="1.2"/>
<line x1="39.40" y1="395.97" x2="43.9" y2="395.97" stroke="#3a3a3a" stroke-width="1.2"/>
<text x="35.70" y="399.57" class="tk" text-anchor="end">180</text>
<line x1="41.30" y1="383.56" x2="43.9" y2="383.56" stroke="#3a3a3a" stroke-width="1.2"/>
<line x1="39.40" y1="371.15" x2="43.9" y2="371.15" stroke="#3a3a3a" stroke-width="1.2"/>
<text x="35.70" y="374.75" class="tk" text-anchor="end">190</text>
<line x1="41.30" y1="358.75" x2="43.9" y2="358.75" stroke="#3a3a3a" stroke-width="1.2"/>
<line x1="39.40" y1="346.34" x2="43.9" y2="346.34" stroke="#3a3a3a" stroke-width="1.2"/>
<text x="35.70" y="349.94" class="tk" text-anchor="end">200</text>
<line x1="41.30" y1="333.93" x2="43.9" y2="333.93" stroke="#3a3a3a" stroke-width="1.2"/>
<line x1="39.40" y1="321.53" x2="43.9" y2="321.53" stroke="#3a3a3a" stroke-width="1.2"/>
<text x="35.70" y="325.13" class="tk" text-anchor="end">210</text>
<line x1="41.30" y1="309.12" x2="43.9" y2="309.12" stroke="#3a3a3a" stroke-width="1.2"/>
<line x1="39.40" y1="296.71" x2="43.9" y2="296.71" stroke="#3a3a3a" stroke-width="1.2"/>
<text x="35.70" y="300.31" class="tk" text-anchor="end">220</text>
<line x1="41.30" y1="284.31" x2="43.9" y2="284.31" stroke="#3a3a3a" stroke-width="1.2"/>
<line x1="39.40" y1="271.90" x2="43.9" y2="271.90" stroke="#3a3a3a" stroke-width="1.2"/>
<text x="35.70" y="275.50" class="tk" text-anchor="end">230</text>
<path d="M67.31,282.32 L67.96,282.34 L68.61,282.36 L69.26,282.38 L69.91,282.41 L70.56,282.43 L71.21,282.45 L71.86,282.47 L72.51,282.50 L73.16,282.52 L73.81,282.55 L74.46,282.57 L75.11,282.60 L75.76,282.63 L76.41,282.66 L77.06,282.69 L77.71,282.73 L78.36,282.76 L79.02,282.80 L79.67,282.84 L80.32,282.88 L80.97,282.92 L81.62,282.97 L82.27,283.01 L82.92,283.06 L83.57,283.11 L84.22,283.17 L84.87,283.23 L85.52,283.29 L86.17,283.35 L86.82,283.41 L87.47,283.48 L88.12,283.55 L88.77,283.63 L89.42,283.71 L90.07,283.79 L90.72,283.88 L91.37,283.97 L92.02,284.06 L92.67,284.16 L93.32,284.26 L93.97,284.36 L94.62,284.47 L95.27,284.59 L95.92,284.71 L96.57,284.83 L97.22,284.96 L97.87,285.09 L98.52,285.22 L99.17,285.37 L99.82,285.51 L100.47,285.67 L101.12,285.82 L101.77,285.99 L102.42,286.15 L103.08,286.33 L103.73,286.51 L104.38,286.69 L105.03,286.88 L105.68,287.08 L106.33,287.28 L107.63,287.71 L108.93,288.16 L110.23,288.63 L111.53,289.13 L112.83,289.65 L114.13,290.19 L115.43,290.76 L116.73,291.35 L118.03,291.96 L119.33,292.59 L120.63,293.25 L121.93,293.92 L123.23,294.62 L124.53,295.34 L125.84,296.08 L127.14,296.83 L128.44,297.61 L129.74,298.41 L131.04,299.22 L132.34,300.06 L133.64,300.91 L134.94,301.79 L136.24,302.68 L137.54,303.58 L138.84,304.51 L140.14,305.45 L141.44,306.41 L142.74,307.38 L144.04,308.37 L145.34,309.38 L146.64,310.40 L147.94,311.44 L149.25,312.49 L150.55,313.56 L151.85,314.64 L153.15,315.73 L154.45,316.84 L155.75,317.96 L157.05,319.09 L158.35,320.24 L159.65,321.40 L160.95,322.57 L162.25,323.75 L163.55,324.95 L164.85,326.15 L166.15,327.37 L167.45,328.59 L168.75,329.83 L170.05,331.08 L171.35,332.33 L172.66,333.60 L173.96,334.87 L175.26,336.15 L176.56,337.45 L177.86,338.74 L179.16,340.05 L180.46,341.36 L181.76,342.69 L183.06,344.01 L184.36,345.35 L185.68,346.71 L187.01,348.08 L188.33,349.46 L189.65,350.84 L190.97,352.22 L192.30,353.62 L193.62,355.02 L194.94,356.42 L196.26,357.83 L197.59,359.25 L198.91,360.67 L200.23,362.09 L201.55,363.52 L202.88,364.96 L204.20,366.40 L205.52,367.84 L206.84,369.29 L208.17,370.75 L209.49,372.21 L210.81,373.67 L212.13,375.14 L213.46,376.61 L214.78,378.08 L216.10,379.56 L217.42,381.05 L218.75,382.53 L220.07,384.02 L221.39,385.52 L222.72,387.01 L224.04,388.51 L225.36,390.02 L226.68,391.52 L228.01,393.03 L229.33,394.55 L230.65,396.06 L231.97,397.58 L233.30,399.10 L234.62,400.62 L235.94,402.14 L237.26,403.67 L238.59,405.20 L239.91,406.73 L241.23,408.26 L242.55,409.80 L243.88,411.33 L245.20,412.87 L246.52,414.41 L247.84,415.95 L249.17,417.49 L250.49,419.03 L251.81,420.57 L253.14,422.12 L254.46,423.66 L255.78,425.21 L257.10,426.75 L258.43,428.30 L259.75,429.84 L261.07,431.39 L262.39,432.94" fill="none" stroke="#008000" stroke-width="2.5" stroke-linejoin="round" mask="url(#m2g)"/>
<path d="M67.31,280.34 L67.96,280.49 L68.61,280.65 L69.26,280.81 L69.91,280.96 L70.56,281.12 L71.21,281.28 L71.86,281.44 L72.51,281.60 L73.16,281.75 L73.81,281.91 L74.46,282.07 L75.11,282.23 L75.76,282.39 L76.41,282.55 L77.06,282.72 L77.71,282.88 L78.36,283.04 L79.02,283.21 L79.67,283.37 L80.32,283.54 L80.97,283.71 L81.62,283.87 L82.27,284.04 L82.92,284.21 L83.57,284.39 L84.22,284.56 L84.87,284.73 L85.52,284.91 L86.17,285.08 L86.82,285.26 L87.47,285.44 L88.12,285.62 L88.77,285.81 L89.42,285.99 L90.07,286.18 L90.72,286.36 L91.37,286.55 L92.02,286.74 L92.67,286.94 L93.32,287.13 L93.97,287.33 L94.62,287.53 L95.27,287.73 L95.92,287.93 L96.57,288.14 L97.22,288.34 L97.87,288.55 L98.52,288.76 L99.17,288.98 L99.82,289.19 L100.47,289.41 L101.12,289.64 L101.77,289.86 L102.42,290.09 L103.08,290.32 L103.73,290.55 L104.38,290.78 L105.03,291.02 L105.68,291.26 L106.33,291.50 L107.63,292.00 L108.93,292.50 L110.23,293.02 L111.53,293.55 L112.83,294.10 L114.13,294.65 L115.43,295.22 L116.73,295.79 L118.03,296.38 L119.33,296.99 L120.63,297.60 L121.93,298.23 L123.23,298.86 L124.53,299.51 L125.84,300.18 L127.14,300.85 L128.44,301.54 L129.74,302.24 L131.04,302.95 L132.34,303.68 L133.64,304.42 L134.94,305.17 L136.24,305.93 L137.54,306.70 L138.84,307.49 L140.14,308.29 L141.44,309.10 L142.74,309.93 L144.04,310.77 L145.34,311.62 L146.64,312.49 L147.94,313.36 L149.25,314.25 L150.55,315.16 L151.85,316.07 L153.15,317.00 L154.45,317.95 L155.75,318.90 L157.05,319.87 L158.35,320.86 L159.65,321.85 L160.95,322.86 L162.25,323.88 L163.55,324.92 L164.85,325.97 L166.15,327.03 L167.45,328.11 L168.75,329.20 L170.05,330.30 L171.35,331.42 L172.66,332.55 L173.96,333.70 L175.26,334.86 L176.56,336.03 L177.86,337.22 L179.16,338.42 L180.46,339.63 L181.76,340.86 L183.06,342.11 L184.36,343.36 L185.68,344.66 L187.01,345.96 L188.33,347.28 L189.65,348.62 L190.97,349.97 L192.30,351.33 L193.62,352.70 L194.94,354.09 L196.26,355.49 L197.59,356.91 L198.91,358.33 L200.23,359.77 L201.55,361.22 L202.88,362.68 L204.20,364.15 L205.52,365.63 L206.84,367.12 L208.17,368.63 L209.49,370.14 L210.81,371.66 L212.13,373.20 L213.46,374.74 L214.78,376.29 L216.10,377.85 L217.42,379.42 L218.75,381.00 L220.07,382.58 L221.39,384.18 L222.72,385.78 L224.04,387.39 L225.36,389.00 L226.68,390.63 L228.01,392.26 L229.33,393.89 L230.65,395.54 L231.97,397.18 L233.30,398.84 L234.62,400.50 L235.94,402.16 L237.26,403.83 L238.59,405.51 L239.91,407.18 L241.23,408.87 L242.55,410.55 L243.88,412.24 L245.20,413.94 L246.52,415.64 L247.84,417.34 L249.17,419.04 L250.49,420.74 L251.81,422.45 L253.14,424.16 L254.46,425.87 L255.78,427.59 L257.10,429.30 L258.43,431.02 L259.75,432.73 L261.07,434.45 L262.39,436.16" fill="none" stroke="#ff0000" stroke-width="2.5" stroke-linejoin="round" mask="url(#m2r)"/>
<rect x="64.66" y="279.72" width="5.3" height="5.2" fill="#008000"/>
<rect x="103.68" y="284.68" width="5.3" height="5.2" fill="#008000"/>
<rect x="181.71" y="342.75" width="5.3" height="5.2" fill="#008000"/>
<rect x="259.74" y="430.34" width="5.3" height="5.2" fill="#008000"/>
<circle cx="67.31" cy="280.34" r="3.05" fill="#ff0000"/>
<circle cx="106.33" cy="291.50" r="3.05" fill="#ff0000"/>
<circle cx="184.36" cy="343.36" r="3.05" fill="#ff0000"/>
<circle cx="262.39" cy="436.16" r="3.05" fill="#ff0000"/>
<rect x="46.4" y="413.6" width="187.60" height="33.50" fill="#fff" stroke="#888" stroke-width="1"/>
<line x1="57.0" y1="423.0" x2="68.35" y2="423.0" stroke="#008000" stroke-width="2.4"/>
<line x1="76.15" y1="423.0" x2="87.5" y2="423.0" stroke="#008000" stroke-width="2.4"/>
<rect x="69.65" y="420.40" width="5.2" height="5.2" fill="#008000"/>
<text x="90.8" y="428.00" class="lg" style="font-size:13.6px">Measured tensile strength</text>
<line x1="57.0" y1="439.3" x2="68.35" y2="439.3" stroke="#ff0000" stroke-width="2.4"/>
<line x1="76.15" y1="439.3" x2="87.5" y2="439.3" stroke="#ff0000" stroke-width="2.4"/>
<circle cx="72.25" cy="439.30" r="2.8" fill="#ff0000"/>
<text x="90.8" y="444.30" class="lg" style="font-size:13.6px">Quadratic fitting curve</text>
<text x="160.95" y="497.5" class="ti" text-anchor="middle">Temperature (°C)</text>
<text x="149.5" y="518.0" class="cap" text-anchor="middle">(c) T1</text>
<text transform="translate(12.7,364.7) rotate(-90)" x="0" y="0" class="ti" text-anchor="middle">Tensile strength (Mpa)</text>
<rect x="360.0" y="271.9" width="234.00" height="186.10" fill="none" stroke="#3a3a3a" stroke-width="1.4"/>
<line x1="360.00" y1="458.0" x2="360.00" y2="460.60" stroke="#3a3a3a" stroke-width="1.2"/>
<line x1="375.60" y1="458.0" x2="375.60" y2="462.50" stroke="#3a3a3a" stroke-width="1.2"/>
<text x="375.60" y="473.80" class="tk" text-anchor="middle">20</text>
<line x1="391.20" y1="458.0" x2="391.20" y2="460.60" stroke="#3a3a3a" stroke-width="1.2"/>
<line x1="406.80" y1="458.0" x2="406.80" y2="462.50" stroke="#3a3a3a" stroke-width="1.2"/>
<text x="406.80" y="473.80" class="tk" text-anchor="middle">40</text>
<line x1="422.40" y1="458.0" x2="422.40" y2="460.60" stroke="#3a3a3a" stroke-width="1.2"/>
<line x1="438.00" y1="458.0" x2="438.00" y2="462.50" stroke="#3a3a3a" stroke-width="1.2"/>
<text x="438.00" y="473.80" class="tk" text-anchor="middle">60</text>
<line x1="453.60" y1="458.0" x2="453.60" y2="460.60" stroke="#3a3a3a" stroke-width="1.2"/>
<line x1="469.20" y1="458.0" x2="469.20" y2="462.50" stroke="#3a3a3a" stroke-width="1.2"/>
<text x="469.20" y="473.80" class="tk" text-anchor="middle">80</text>
<line x1="484.80" y1="458.0" x2="484.80" y2="460.60" stroke="#3a3a3a" stroke-width="1.2"/>
<line x1="500.40" y1="458.0" x2="500.40" y2="462.50" stroke="#3a3a3a" stroke-width="1.2"/>
<text x="500.40" y="473.80" class="tk" text-anchor="middle">100</text>
<line x1="516.00" y1="458.0" x2="516.00" y2="460.60" stroke="#3a3a3a" stroke-width="1.2"/>
<line x1="531.60" y1="458.0" x2="531.60" y2="462.50" stroke="#3a3a3a" stroke-width="1.2"/>
<text x="531.60" y="473.80" class="tk" text-anchor="middle">120</text>
<line x1="547.20" y1="458.0" x2="547.20" y2="460.60" stroke="#3a3a3a" stroke-width="1.2"/>
<line x1="562.80" y1="458.0" x2="562.80" y2="462.50" stroke="#3a3a3a" stroke-width="1.2"/>
<text x="562.80" y="473.80" class="tk" text-anchor="middle">140</text>
<line x1="578.40" y1="458.0" x2="578.40" y2="460.60" stroke="#3a3a3a" stroke-width="1.2"/>
<line x1="594.00" y1="458.0" x2="594.00" y2="462.50" stroke="#3a3a3a" stroke-width="1.2"/>
<text x="594.00" y="473.80" class="tk" text-anchor="middle">160</text>
<line x1="355.50" y1="458.00" x2="360.0" y2="458.00" stroke="#3a3a3a" stroke-width="1.2"/>
<text x="351.80" y="461.60" class="tk" text-anchor="end">125</text>
<line x1="357.40" y1="442.49" x2="360.0" y2="442.49" stroke="#3a3a3a" stroke-width="1.2"/>
<line x1="355.50" y1="426.98" x2="360.0" y2="426.98" stroke="#3a3a3a" stroke-width="1.2"/>
<text x="351.80" y="430.58" class="tk" text-anchor="end">130</text>
<line x1="357.40" y1="411.48" x2="360.0" y2="411.48" stroke="#3a3a3a" stroke-width="1.2"/>
<line x1="355.50" y1="395.97" x2="360.0" y2="395.97" stroke="#3a3a3a" stroke-width="1.2"/>
<text x="351.80" y="399.57" class="tk" text-anchor="end">135</text>
<line x1="357.40" y1="380.46" x2="360.0" y2="380.46" stroke="#3a3a3a" stroke-width="1.2"/>
<line x1="355.50" y1="364.95" x2="360.0" y2="364.95" stroke="#3a3a3a" stroke-width="1.2"/>
<text x="351.80" y="368.55" class="tk" text-anchor="end">140</text>
<line x1="357.40" y1="349.44" x2="360.0" y2="349.44" stroke="#3a3a3a" stroke-width="1.2"/>
<line x1="355.50" y1="333.93" x2="360.0" y2="333.93" stroke="#3a3a3a" stroke-width="1.2"/>
<text x="351.80" y="337.53" class="tk" text-anchor="end">145</text>
<line x1="357.40" y1="318.42" x2="360.0" y2="318.42" stroke="#3a3a3a" stroke-width="1.2"/>
<line x1="355.50" y1="302.92" x2="360.0" y2="302.92" stroke="#3a3a3a" stroke-width="1.2"/>
<text x="351.80" y="306.52" class="tk" text-anchor="end">150</text>
<line x1="357.40" y1="287.41" x2="360.0" y2="287.41" stroke="#3a3a3a" stroke-width="1.2"/>
<line x1="355.50" y1="271.90" x2="360.0" y2="271.90" stroke="#3a3a3a" stroke-width="1.2"/>
<text x="351.80" y="275.50" class="tk" text-anchor="end">155</text>
<path d="M383.40,281.20 L384.05,281.80 L384.70,282.40 L385.35,283.00 L386.00,283.59 L386.65,284.19 L387.30,284.79 L387.95,285.38 L388.60,285.98 L389.25,286.57 L389.90,287.16 L390.55,287.75 L391.20,288.34 L391.85,288.93 L392.50,289.52 L393.15,290.10 L393.80,290.69 L394.45,291.27 L395.10,291.85 L395.75,292.42 L396.40,293.00 L397.05,293.57 L397.70,294.14 L398.35,294.71 L399.00,295.28 L399.65,295.84 L400.30,296.40 L400.95,296.95 L401.60,297.51 L402.25,298.06 L402.90,298.60 L403.55,299.15 L404.20,299.69 L404.85,300.22 L405.50,300.75 L406.15,301.28 L406.80,301.81 L407.45,302.33 L408.10,302.84 L408.75,303.35 L409.40,303.86 L410.05,304.36 L410.70,304.86 L411.35,305.35 L412.00,305.83 L412.65,306.32 L413.30,306.79 L413.95,307.26 L414.60,307.73 L415.25,308.19 L415.90,308.64 L416.55,309.09 L417.20,309.53 L417.85,309.97 L418.50,310.40 L419.15,310.82 L419.80,311.24 L420.45,311.65 L421.10,312.05 L421.75,312.45 L422.40,312.84 L423.70,313.60 L425.00,314.33 L426.30,315.04 L427.60,315.72 L428.90,316.38 L430.20,317.01 L431.50,317.63 L432.80,318.22 L434.10,318.79 L435.40,319.34 L436.70,319.87 L438.00,320.39 L439.30,320.89 L440.60,321.37 L441.90,321.84 L443.20,322.30 L444.50,322.75 L445.80,323.18 L447.10,323.60 L448.40,324.02 L449.70,324.42 L451.00,324.82 L452.30,325.22 L453.60,325.61 L454.90,325.99 L456.20,326.37 L457.50,326.75 L458.80,327.12 L460.10,327.50 L461.40,327.88 L462.70,328.26 L464.00,328.64 L465.30,329.02 L466.60,329.41 L467.90,329.81 L469.20,330.21 L470.50,330.62 L471.80,331.04 L473.10,331.47 L474.40,331.91 L475.70,332.36 L477.00,332.83 L478.30,333.30 L479.60,333.80 L480.90,334.30 L482.20,334.83 L483.50,335.37 L484.80,335.93 L486.10,336.51 L487.40,337.11 L488.70,337.74 L490.00,338.38 L491.30,339.05 L492.60,339.74 L493.90,340.46 L495.20,341.21 L496.50,341.98 L497.80,342.79 L499.10,343.62 L500.40,344.48 L501.72,345.39 L503.04,346.33 L504.37,347.30 L505.69,348.31 L507.01,349.34 L508.33,350.40 L509.65,351.50 L510.98,352.62 L512.30,353.77 L513.62,354.95 L514.94,356.15 L516.26,357.38 L517.59,358.64 L518.91,359.92 L520.23,361.23 L521.55,362.57 L522.87,363.92 L524.20,365.30 L525.52,366.70 L526.84,368.13 L528.16,369.57 L529.48,371.04 L530.81,372.53 L532.13,374.04 L533.45,375.56 L534.77,377.11 L536.09,378.67 L537.42,380.25 L538.74,381.85 L540.06,383.47 L541.38,385.10 L542.71,386.75 L544.03,388.41 L545.35,390.08 L546.67,391.77 L547.99,393.48 L549.32,395.19 L550.64,396.92 L551.96,398.66 L553.28,400.41 L554.60,402.17 L555.93,403.95 L557.25,405.73 L558.57,407.52 L559.89,409.31 L561.21,411.12 L562.54,412.93 L563.86,414.75 L565.18,416.58 L566.50,418.41 L567.82,420.25 L569.15,422.09 L570.47,423.93 L571.79,425.78 L573.11,427.63 L574.43,429.48 L575.76,431.34 L577.08,433.19 L578.40,435.05" fill="none" stroke="#008000" stroke-width="2.5" stroke-linejoin="round" mask="url(#m3g)"/>
<path d="M383.40,286.79 L384.05,287.01 L384.70,287.22 L385.35,287.44 L386.00,287.66 L386.65,287.87 L387.30,288.09 L387.95,288.31 L388.60,288.53 L389.25,288.75 L389.90,288.96 L390.55,289.18 L391.20,289.40 L391.85,289.62 L392.50,289.84 L393.15,290.06 L393.80,290.29 L394.45,290.51 L395.10,290.73 L395.75,290.95 L396.40,291.18 L397.05,291.40 L397.70,291.63 L398.35,291.85 L399.00,292.08 L399.65,292.31 L400.30,292.53 L400.95,292.76 L401.60,292.99 L402.25,293.22 L402.90,293.46 L403.55,293.69 L404.20,293.92 L404.85,294.16 L405.50,294.40 L406.15,294.63 L406.80,294.87 L407.45,295.11 L408.10,295.35 L408.75,295.60 L409.40,295.84 L410.05,296.09 L410.70,296.33 L411.35,296.58 L412.00,296.83 L412.65,297.08 L413.30,297.33 L413.95,297.59 L414.60,297.84 L415.25,298.10 L415.90,298.36 L416.55,298.62 L417.20,298.89 L417.85,299.15 L418.50,299.42 L419.15,299.69 L419.80,299.96 L420.45,300.23 L421.10,300.50 L421.75,300.78 L422.40,301.06 L423.70,301.62 L425.00,302.19 L426.30,302.77 L427.60,303.36 L428.90,303.95 L430.20,304.55 L431.50,305.17 L432.80,305.79 L434.10,306.42 L435.40,307.06 L436.70,307.70 L438.00,308.36 L439.30,309.02 L440.60,309.69 L441.90,310.37 L443.20,311.06 L444.50,311.76 L445.80,312.46 L447.10,313.18 L448.40,313.90 L449.70,314.63 L451.00,315.37 L452.30,316.12 L453.60,316.88 L454.90,317.64 L456.20,318.42 L457.50,319.20 L458.80,319.99 L460.10,320.79 L461.40,321.60 L462.70,322.42 L464.00,323.25 L465.30,324.09 L466.60,324.93 L467.90,325.79 L469.20,326.65 L470.50,327.52 L471.80,328.40 L473.10,329.29 L474.40,330.19 L475.70,331.10 L477.00,332.01 L478.30,332.94 L479.60,333.87 L480.90,334.82 L482.20,335.77 L483.50,336.73 L484.80,337.70 L486.10,338.68 L487.40,339.67 L488.70,340.67 L490.00,341.67 L491.30,342.69 L492.60,343.72 L493.90,344.75 L495.20,345.79 L496.50,346.85 L497.80,347.91 L499.10,348.98 L500.40,350.06 L501.72,351.17 L503.04,352.29 L504.37,353.42 L505.69,354.55 L507.01,355.70 L508.33,356.85 L509.65,358.02 L510.98,359.19 L512.30,360.37 L513.62,361.56 L514.94,362.75 L516.26,363.96 L517.59,365.17 L518.91,366.39 L520.23,367.61 L521.55,368.85 L522.87,370.09 L524.20,371.33 L525.52,372.59 L526.84,373.85 L528.16,375.12 L529.48,376.39 L530.81,377.67 L532.13,378.95 L533.45,380.24 L534.77,381.54 L536.09,382.84 L537.42,384.15 L538.74,385.46 L540.06,386.78 L541.38,388.10 L542.71,389.43 L544.03,390.76 L545.35,392.09 L546.67,393.43 L547.99,394.77 L549.32,396.12 L550.64,397.47 L551.96,398.82 L553.28,400.18 L554.60,401.54 L555.93,402.90 L557.25,404.27 L558.57,405.64 L559.89,407.01 L561.21,408.38 L562.54,409.76 L563.86,411.13 L565.18,412.51 L566.50,413.89 L567.82,415.27 L569.15,416.66 L570.47,418.04 L571.79,419.43 L573.11,420.81 L574.43,422.20 L575.76,423.59 L577.08,424.98 L578.40,426.36" fill="none" stroke="#ff0000" stroke-width="2.5" stroke-linejoin="round" mask="url(#m3r)"/>
<rect x="380.75" y="278.60" width="5.3" height="5.2" fill="#008000"/>
<rect x="419.75" y="310.24" width="5.3" height="5.2" fill="#008000"/>
<rect x="497.75" y="341.88" width="5.3" height="5.2" fill="#008000"/>
<rect x="575.75" y="432.45" width="5.3" height="5.2" fill="#008000"/>
<circle cx="383.40" cy="286.79" r="3.05" fill="#ff0000"/>
<circle cx="422.40" cy="301.06" r="3.05" fill="#ff0000"/>
<circle cx="500.40" cy="350.06" r="3.05" fill="#ff0000"/>
<circle cx="578.40" cy="426.36" r="3.05" fill="#ff0000"/>
<rect x="362.4" y="411.6" width="194.60" height="34.30" fill="#fff" stroke="#888" stroke-width="1"/>
<line x1="374.0" y1="421.0" x2="385.60" y2="421.0" stroke="#008000" stroke-width="2.4"/>
<line x1="393.40" y1="421.0" x2="405.0" y2="421.0" stroke="#008000" stroke-width="2.4"/>
<rect x="386.90" y="418.40" width="5.2" height="5.2" fill="#008000"/>
<text x="408.8" y="426.00" class="lg" style="font-size:14.0px">Measured tensile strength</text>
<line x1="374.0" y1="437.9" x2="385.60" y2="437.9" stroke="#ff0000" stroke-width="2.4"/>
<line x1="393.40" y1="437.9" x2="405.0" y2="437.9" stroke="#ff0000" stroke-width="2.4"/>
<circle cx="389.50" cy="437.90" r="2.8" fill="#ff0000"/>
<text x="408.8" y="442.90" class="lg" style="font-size:14.0px">Quadratic fitting curve</text>
<text x="477.00" y="497.5" class="ti" text-anchor="middle">Temperature (°C)</text>
<text x="475.1" y="518.0" class="cap" text-anchor="middle">(d) D1</text>
<text transform="translate(329.4,364.7) rotate(-90)" x="0" y="0" class="ti" text-anchor="middle">Tensile strength (Mpa)</text>
</svg>
</body></html>
